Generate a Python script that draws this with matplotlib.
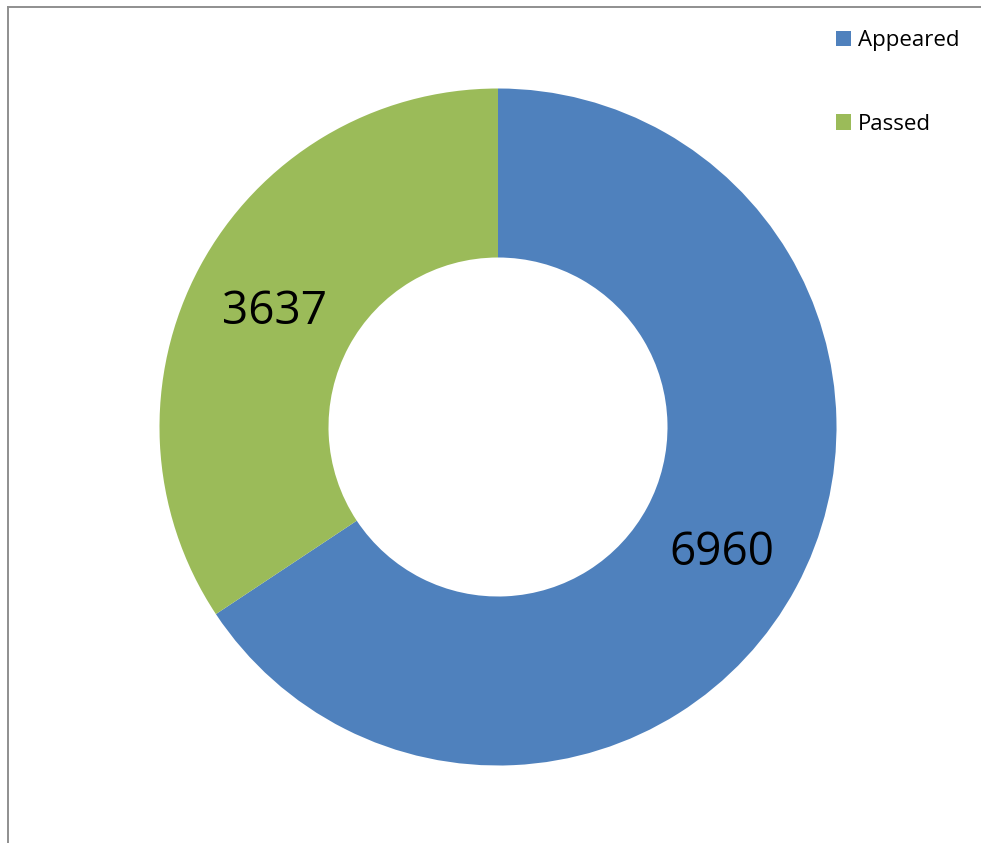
import matplotlib
matplotlib.use("Agg")
import matplotlib.pyplot as plt
from matplotlib.patches import Rectangle

# donut chart: appeared vs passed
labels = ["Appeared", "Passed"]
values = [6960, 3637]
colors = ["#4f81bd", "#9bbb59"]

plt.rcParams['font.family'] = ['Open Sans', 'DejaVu Sans']

fig = plt.figure(figsize=(9.81, 8.43), dpi=100)
ax = fig.add_axes([0, 0, 1, 1])

total = sum(values)
wedges, texts, autotexts = ax.pie(
    values, colors=colors, startangle=90, counterclock=False,
    center=(498, 416), radius=338.5, frame=True,
    wedgeprops=dict(width=169, edgecolor='none'),
    autopct=lambda p: "{:d}".format(int(round(p * total / 100.0))),
    pctdistance=0.75, textprops=dict(fontsize=33, color='black'))
for t in autotexts:
    t.set_va('center_baseline')
ax.set_xlim(0, 981)
ax.set_ylim(0, 843)
ax.set_aspect('equal')
ax.axis('off')

# chart border (clipped on right and bottom)
fig.add_artist(plt.Line2D([7.5 / 981, 7.5 / 981], [0, 1 - 6.5 / 843], color='#8f8f8f', lw=1.4))
fig.add_artist(plt.Line2D([7.5 / 981, 1], [1 - 6.5 / 843, 1 - 6.5 / 843], color='#8f8f8f', lw=1.4))

handles = [Rectangle((0, 0), 1, 1, facecolor=c, edgecolor='none') for c in colors]
fig.legend(handles, labels, loc='upper left', bbox_to_anchor=(836 / 981, 1 - 30 / 843),
           frameon=False, fontsize=16, handlelength=0.68, handleheight=0.68,
           handletextpad=0.3, labelspacing=2.82, borderaxespad=0, borderpad=0)

fig.savefig("out.png", dpi=100)
